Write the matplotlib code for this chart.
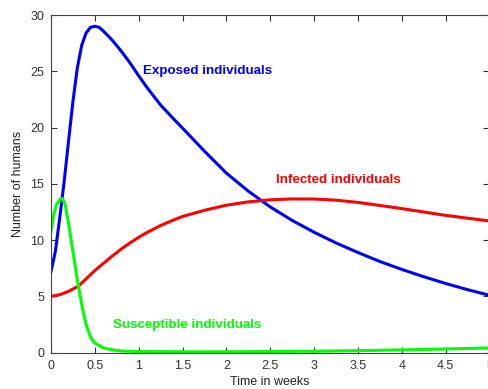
import matplotlib
matplotlib.use("Agg")
import matplotlib.pyplot as plt

# Exposed individuals (blue)
t_exposed = [0, 0.05, 0.1, 0.15, 0.2, 0.25, 0.3, 0.35, 0.4, 0.45, 0.5, 0.55, 0.6, 0.7, 0.8, 0.9,
             1.0, 1.1, 1.25, 1.4, 1.5, 1.75, 2.0, 2.25, 2.5, 2.75, 3.0, 3.25, 3.5, 3.75, 4.0, 4.25, 4.5, 4.75, 5.0]
exposed = [7.2, 9.0, 12.0, 15.2, 18.8, 22.3, 25.3, 27.3, 28.4, 28.9, 29.0, 28.9, 28.55, 27.75, 26.8, 25.75,
           24.6, 23.5, 22.0, 20.75, 19.95, 17.9, 15.95, 14.35, 12.95, 11.75, 10.7, 9.75, 8.9, 8.1, 7.4, 6.75, 6.15, 5.6, 5.1]

# Infected individuals (red)
t_infected = [0, 0.1, 0.2, 0.31, 0.4, 0.5, 0.6, 0.7, 0.8, 0.9, 1.0, 1.1, 1.25, 1.4, 1.5, 1.75, 2.0, 2.25, 2.5,
              2.75, 3.0, 3.25, 3.5, 3.75, 4.0, 4.25, 4.5, 4.75, 5.0]
infected = [5.0, 5.15, 5.45, 5.9, 6.55, 7.3, 7.95, 8.6, 9.2, 9.75, 10.25, 10.7, 11.3, 11.8, 12.1, 12.65, 13.1, 13.4, 13.58,
            13.66, 13.65, 13.55, 13.35, 13.08, 12.8, 12.5, 12.2, 11.95, 11.7]

# Susceptible individuals (green)
t_susceptible = [0, 0.03, 0.06, 0.1, 0.13, 0.16, 0.2, 0.25, 0.3, 0.35, 0.4, 0.45, 0.5, 0.6, 0.7, 0.8,
                 1.0, 1.5, 2.0, 2.5, 3.0, 3.5, 4.0, 4.5, 5.0]
susceptible = [10.8, 12.2, 13.1, 13.6, 13.7, 13.2, 11.5, 9.0, 6.5, 4.3, 2.5, 1.4, 0.85, 0.42, 0.25, 0.15,
               0.1, 0.08, 0.08, 0.1, 0.13, 0.18, 0.25, 0.33, 0.42]

x_ticks = [0, 0.5, 1, 1.5, 2, 2.5, 3, 3.5, 4, 4.5, 5]
x_ticklabels = ["0", "0.5", "1", "1.5", "2", "2.5", "3", "3.5", "4", "4.5", "5"]
y_ticks = [0, 5, 10, 15, 20, 25, 30]
y_ticklabels = ["0", "5", "10", "15", "20", "25", "30"]

plt.rcParams['font.family'] = ['Liberation Sans', 'DejaVu Sans']

fig = plt.figure(figsize=(4.89, 3.89), dpi=100)
ax = fig.add_axes([51 / 489, (389 - 352.7) / 389, (489.5 - 51) / 489, (352.7 - 15) / 389])

lw = 2.2
ax.plot(t_exposed, exposed, color=(0, 0, 1), lw=lw, solid_joinstyle='round')
ax.plot(t_infected, infected, color=(1, 0, 0), lw=lw, solid_joinstyle='round')
ax.plot(t_susceptible, susceptible, color=(0, 1, 0), lw=lw, solid_joinstyle='round')

ax.set_xlim(0, 5)
ax.set_ylim(0, 30)
ax.set_xticks(x_ticks)
ax.set_xticklabels(x_ticklabels)
ax.set_yticks(y_ticks)
ax.set_yticklabels(y_ticklabels)
ax.tick_params(direction='in', top=True, right=True, length=4, width=0.8,
               labelsize=9, colors='#333333', pad=5)
for s in ax.spines.values():
    s.set_color('#444444')
    s.set_linewidth(0.8)

ax.set_xlabel("Time in weeks", fontsize=9, color='#222222', labelpad=3)
ax.set_ylabel("Number of humans", fontsize=9, color='#222222', labelpad=4)

fs = 9.6
ax.text(1.05, 25.0, "Exposed individuals", color=(0, 0, 1), fontsize=fs, fontweight='bold', va='center')
ax.text(2.57, 15.3, "Infected individuals", color=(1, 0, 0), fontsize=fs, fontweight='bold', va='center')
ax.text(0.71, 2.45, "Susceptible individuals", color=(0, 1, 0), fontsize=fs, fontweight='bold', va='center')

fig.savefig("out.png", dpi=100)
